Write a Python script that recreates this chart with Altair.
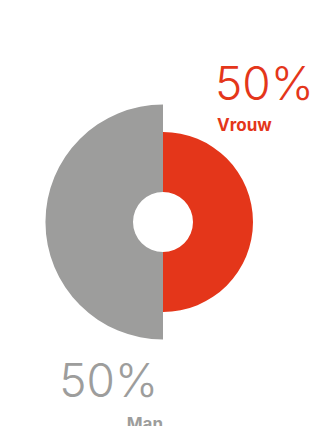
import altair as alt
import pandas as pd

# Share of respondents per gender
genders = ["Vrouw", "Man"]
shares = [50, 50]
colors = ["#E4361A", "#9D9D9C"]

df = pd.DataFrame({"gender": genders, "share": shares, "order": [0, 1]})

CX, CY = 163, 222
INNER = 30
COLOR = dict(zip(genders, colors))

base = alt.Chart(df).transform_calculate(
    pct="format(datum.share, '.0f') + '%'"
)

# Donut: start/end angles (radians, clockwise from 12 o'clock) from cumulative shares
donut = base.transform_joinaggregate(
    total="sum(share)"
).transform_window(
    cum="sum(share)", sort=[alt.SortField("order", order="ascending")], frame=[None, 0]
).transform_calculate(
    a0="2 * PI * (datum.cum - datum.share) / datum.total",
    a1="2 * PI * datum.cum / datum.total",
).mark_arc(innerRadius=INNER, x=CX, y=CY, stroke=None).encode(
    theta=alt.Theta("a0:Q", scale=None, stack=None),
    theta2=alt.Theta2("a1"),
    radius=alt.Radius("order:Q", scale=alt.Scale(domain=[0, 1], range=[90, 117.5], zero=False)),
    color=alt.Color("gender:N", scale=alt.Scale(domain=genders, range=colors), legend=None),
)


def big(g, x, y, align):
    return base.transform_filter(alt.datum.gender == g).mark_text(
        x=x, y=y, align=align, baseline="alphabetic",
        font="Inter", fontSize=46, fontWeight=300, color=COLOR[g],
    ).encode(text="pct:N")


def name(g, x, y, align):
    return base.transform_filter(alt.datum.gender == g).mark_text(
        x=x, y=y, align=align, baseline="alphabetic",
        font="Inter", fontSize=17, fontWeight="bold", color=COLOR[g],
    ).encode(text="gender:N")


chart = alt.layer(
    donut,
    big("Vrouw", 215, 100, "left"), name("Vrouw", 217, 131, "left"),
    big("Man", 158, 397, "right"), name("Man", 163, 430, "right"),
).properties(
    width=322, height=426, padding=0, autosize="none",
).configure_view(stroke=None).configure(background="white")

chart.save("out.html", embed_options={"renderer": "svg", "actions": False})
